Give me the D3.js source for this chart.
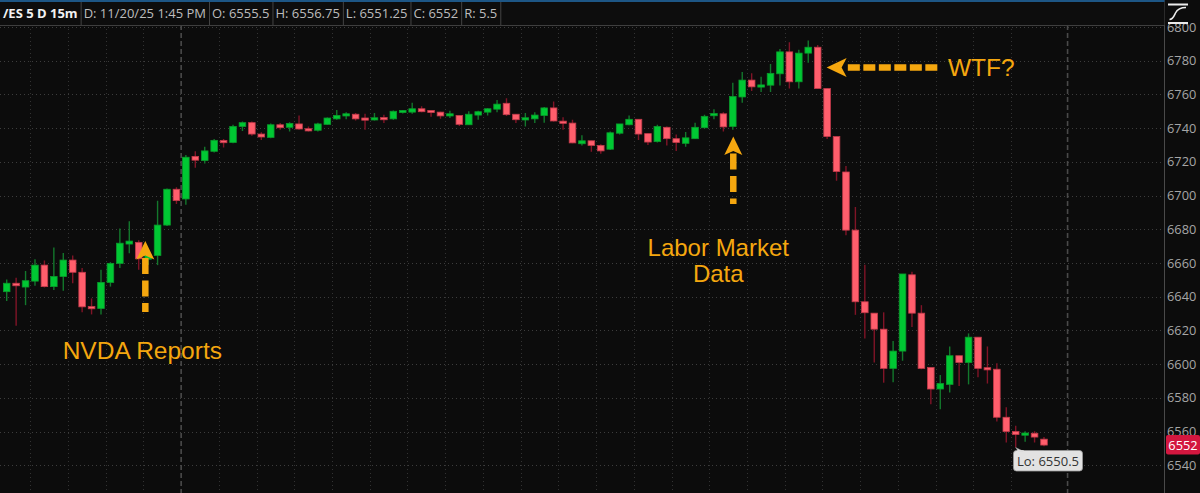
<!DOCTYPE html>
<html><head><meta charset="utf-8">
<script src="https://cdn.jsdelivr.net/npm/d3@7"></script>
<style>html,body{margin:0;padding:0;background:#0c0c0c;overflow:hidden}</style>
</head><body><svg id="c" width="1200" height="493"></svg>
<script>
// ---- data (15m bars, /ES) ----
const opens  = [6643,6648,6645.75,6649.25,6658.75,6646,6652,6661.75,6654.5,6634,6633,6648.5,6659.75,6671.25,6672.25,6662.25,6664.5,6682.5,6703.75,6698,
6723.25,6720.75,6726.25,6732.25,6731.5,6741,6743.25,6736.5,6734.5,6742,6740.5,6742.5,6739.5,6738.75,6742.25,6745.5,6747.5,6748.25,6745.75,6745,
6746,6745.5,6749.5,6749.5,6751.5,6750.25,6749.5,6747.5,6747.5,6742,6747.75,6749.5,6751.25,6754.75,6748.25,6745,6745.5,6747.5,6752,6744,
6743,6730.75,6732.5,6729.75,6727.5,6737,6742,6745.25,6736.75,6732,6740.5,6733.75,6731,6733.75,6740.25,6747.5,6748.5,6741,6758.5,6768.5,
6764.5,6765.5,6772.25,6785.25,6767.5,6784.5,6788,6763.5,6735,6714,6679.5,6637,6630.25,6620.75,6597.5,6607.75,6653,6630.25,6598,6585.25,
6588,6605,6601,6616,6597.75,6597,6568.5,6560,6558,6559,6555.5];
const highs  = [6650.25,6651.25,6655.25,6662.25,6661.5,6669.25,6666,6664.5,6657,6639,6656,6660.5,6680.5,6684.75,6673.5,6666,6697,6704.25,6705,6724,
6726.25,6729,6733.5,6733.5,6742,6744,6744,6737.5,6742.75,6743,6743.5,6747.5,6741,6743.25,6746.25,6750.75,6749.5,6749,6748.5,6749,
6748,6750.5,6750.75,6755,6753,6750.25,6749.75,6750.25,6747.5,6750,6750.25,6751.75,6756.75,6757.75,6748.25,6749,6749.5,6752.5,6755.75,6746.5,
6745,6735.75,6732.5,6730.5,6738,6742.5,6747.5,6745.25,6736.75,6742,6741,6736.25,6737.75,6743.25,6748,6751.25,6749.5,6767,6773.25,6772.5,
6770.5,6778,6787,6791,6786.5,6792,6789.25,6763.5,6735.25,6717.5,6693.25,6659,6630.25,6630.75,6613.75,6653.5,6654.75,6635,6598,6593.5,
6610.5,6605,6618.25,6616,6610.5,6600.5,6574.5,6563.5,6560.25,6560.25,6556.75];
const lows   = [6637.5,6622.75,6635,6646.5,6645.5,6644,6643.5,6648,6630.75,6629.5,6629.5,6646,6657,6665.75,6656,6658.75,6658.75,6682,6695,6694.5,
6716.5,6719,6725.5,6728.5,6731,6738.25,6735.5,6733,6734,6739,6738,6739,6738,6738,6742,6745,6745.25,6744.5,6739,6744.5,
6743,6745,6748.75,6748.5,6749.5,6746.75,6745.5,6746,6741.25,6742,6745,6747.5,6749.5,6747.25,6743,6741,6743,6743.25,6744,6739,
6731,6729.75,6726,6724.75,6727,6736.25,6741.75,6733,6730,6731.5,6729.75,6726.5,6729,6733.5,6740,6745.25,6738,6739,6755,6762,
6761.5,6761.5,6765.25,6763.5,6763.5,6778.75,6763.5,6733.5,6708.75,6676.5,6629.25,6615.25,6601,6589,6589.25,6602,6622,6597,6576.25,6573.25,
6583.25,6587,6588,6592.25,6588.5,6566,6553.5,6550.5,6554,6553.5,6551.25];
const closes = [6648,6646.5,6649.5,6658.75,6646,6652,6661.75,6654.5,6634,6633,6648.5,6659.75,6671.75,6673,6662.5,6664.75,6682.5,6703.75,6697,6722.75,
6721,6726.5,6732.75,6731.75,6741,6743.25,6736.5,6734.75,6742,6740.25,6742.75,6739.5,6738.5,6742.5,6746,6747.5,6748.25,6745.5,6745,6746,
6745.25,6750,6750.25,6751.5,6749.75,6749.5,6747.25,6748.25,6742.25,6748.25,6749.75,6751.5,6754.25,6748,6745,6746,6747.75,6752,6744.25,6743,
6731.25,6732.5,6729.75,6726.5,6737.25,6742.5,6745.25,6736.5,6731.75,6741,6733.75,6731.5,6734.25,6740.5,6747,6748.5,6740.75,6758.75,6768.5,6764.5,
6765.5,6772.5,6785.25,6767.5,6784.5,6788,6763.5,6735,6714.25,6679.5,6637,6630.5,6620.75,6597.5,6607.75,6653.5,6630.25,6597.5,6585.25,6588.5,
6605,6601,6616,6597.5,6596.75,6568.5,6560,6558.25,6559,6556.75,6552];
const priceTicks = [6540,6560,6580,6600,6620,6640,6660,6680,6700,6720,6740,6760,6780,6800];
const sessionBreaks = [18.5, 112.5];           // dashed session separators (bar index)
const hourGrid = [2.5,6.5,10.5,14.5,22.5,26.5,30.5,34.5,38.5,42.5,46.5,50.5,54.5,58.5,62.5,66.5,70.5,74.5,78.5,82.5,86.5,90.5,94.5,98.5,102.5,106.5];
const headerCells = ["/ES 5 D 15m","D: 11/20/25 1:45 PM","O: 6555.5","H: 6556.75","L: 6551.25","C: 6552","R: 5.5"];
const lastPrice = 6552;
const lowBar = 107, lowValue = 6550.5, lowText = "Lo: 6550.5";
const notes = [
  {text:["NVDA Reports"], bar:14.7, tip:6673, tail:6631, dir:"up"},
  {text:["Labor Market","Data"], bar:77.05, tip:6735, tail:6695, dir:"up"},
  {text:["WTF?"], bar:87.0, price:6776, tailBar:98.9, dir:"left"}
];

// ---- layout ----
const W=1200,H=493, plotR=1164.5;
const svg=d3.select("#c");
const x=d3.scaleLinear().domain([0,110]).range([6.7,6.7+9.43*110]);
const y=d3.scaleLinear().domain([6540,6800]).range([465.3,27]);
const bg="#0c0c0c", orange="#f5a70f";
svg.append("rect").attr("width",W).attr("height",H).attr("fill",bg);

const plot=svg.append("g");
svg.append("defs").append("clipPath").attr("id","pc").append("rect").attr("x",0).attr("y",25).attr("width",plotR).attr("height",H-25);
plot.attr("clip-path","url(#pc)");

// grid
plot.selectAll(".hg").data(priceTicks).join("line")
  .attr("x1",0).attr("x2",plotR).attr("y1",d=>Math.round(y(d))+0.5).attr("y2",d=>Math.round(y(d))+0.5)
  .attr("stroke","#3d3d3d").attr("stroke-width",1).attr("stroke-dasharray","1,3");
plot.selectAll(".vg").data(hourGrid).join("line")
  .attr("x1",d=>Math.round(x(d))+0.5).attr("x2",d=>Math.round(x(d))+0.5).attr("y1",25).attr("y2",H)
  .attr("stroke","#333").attr("stroke-width",1).attr("stroke-dasharray","1,3");
plot.selectAll(".sb").data(sessionBreaks).join("line")
  .attr("x1",d=>x(d)).attr("x2",d=>x(d)).attr("y1",25).attr("y2",H)
  .attr("stroke","#4a4a4a").attr("stroke-width",1.6).attr("stroke-dasharray","5,3");

// candles
const bars=d3.range(opens.length).map(i=>({i,o:opens[i],h:highs[i],l:lows[i],c:closes[i]}));
const up=d=>d.c>=d.o;
const bw=6.6;
const cg=plot.append("g");
cg.selectAll(".wk").data(bars).join("line")
  .attr("x1",d=>x(d.i)).attr("x2",d=>x(d.i)).attr("y1",d=>y(d.h)).attr("y2",d=>y(d.l))
  .attr("stroke",d=>up(d)?"#13782c":"#801427").attr("stroke-width",1.4);
cg.selectAll(".bd").data(bars).join("rect")
  .attr("x",d=>x(d.i)-bw/2).attr("width",bw)
  .attr("y",d=>{const t=y(Math.max(d.o,d.c)), b=y(Math.min(d.o,d.c)); return (b-t)<2.2?(t+b)/2-1.1:t;})
  .attr("height",d=>Math.max(2.2,Math.abs(y(d.o)-y(d.c))))
  .attr("fill",d=>up(d)?"#00c833":"#ff5e6c")
  .attr("stroke",d=>up(d)?"#0a9a2c":"#c23a4a").attr("stroke-width",0.8);

// annotations
const ag=svg.append("g");
function upArrow(cx,tipY,tailY){
  ag.append("path").attr("d",`M${cx},${tipY} L${cx+9},${tipY+18.5} L${cx},${tipY+14.5} L${cx-9},${tipY+18.5} Z`).attr("fill",orange);
  ag.append("line").attr("x1",cx).attr("x2",cx).attr("y1",tipY+17).attr("y2",tailY)
    .attr("stroke",orange).attr("stroke-width",6.5).attr("stroke-dasharray","16,6.5");
}
function leftArrow(tipX,cy,tailX){
  ag.append("path").attr("d",`M${tipX},${cy} L${tipX+20},${cy-9.5} L${tipX+15},${cy} L${tipX+20},${cy+9.5} Z`).attr("fill",orange);
  ag.append("line").attr("x1",tailX).attr("x2",tipX+19).attr("y1",cy).attr("y2",cy)
    .attr("stroke",orange).attr("stroke-width",6.5).attr("stroke-dasharray","12,3.5");
}
const fontA="'Liberation Sans', Arial, sans-serif";
// NVDA
{const n=notes[0]; const cx=x(n.bar); upArrow(cx,y(n.tip),y(n.tail));
 ag.append("text").attr("x",cx-3).attr("y",359).attr("text-anchor","middle").attr("font-family",fontA).attr("font-size",24.5).attr("fill",orange).text(n.text[0]);}
// Labor
{const n=notes[1]; const cx=x(n.bar); upArrow(cx,y(n.tip),y(n.tail));
 n.text.forEach((t,k)=>ag.append("text").attr("x",cx-15).attr("y",256+k*26).attr("text-anchor","middle").attr("font-family",fontA).attr("font-size",24).attr("fill",orange).text(t));}
// WTF
{const n=notes[2]; const cy=y(n.price); leftArrow(x(n.bar)-0.5,cy,x(n.tailBar)-2);
 ag.append("text").attr("x",948).attr("y",cy+9).attr("font-family",fontA).attr("font-size",24.5).attr("fill",orange).text(n.text[0]);}

// low label
{const px=x(lowBar), py=y(lowValue);
 const g=svg.append("g");
 g.append("rect").attr("x",1013.5).attr("y",450.5).attr("width",69).attr("height",20.5).attr("rx",3).attr("fill","#e2e2e2").attr("stroke","#9a9a9a").attr("stroke-width",0.8);
 g.append("path").attr("d",`M${px},${py} L${px+2.5},${451} L${px+7},${451} Z`).attr("fill","#e2e2e2").attr("stroke","#9a9a9a").attr("stroke-width",0.6);
 g.append("rect").attr("x",px+1.5).attr("y",450.2).attr("width",6.5).attr("height",1.6).attr("fill","#e2e2e2");
 g.append("text").attr("x",1048).attr("y",465.5).attr("text-anchor","middle").attr("font-family","'Open Sans',sans-serif").attr("font-size",13).attr("fill","#333").text(lowText);}

// right axis
svg.append("line").attr("x1",plotR).attr("x2",plotR).attr("y1",0).attr("y2",H).attr("stroke","#4a4a4a");
svg.append("g").selectAll("text").data(priceTicks.filter(d=>Math.abs(y(d)-y(lastPrice))>12)).join("text")
  .attr("x",1167).attr("y",d=>y(d)+4.5).attr("font-family","'Open Sans',sans-serif").attr("font-size",12.8).attr("fill","#a6a6a6").text(d=>d);
// tick label partly hidden under the last-price box (as in the original)
{const hidden=priceTicks.filter(d=>Math.abs(y(d)-y(lastPrice))<=12);
 svg.append("defs").append("clipPath").attr("id","hc").append("rect").attr("x",1165).attr("y",0).attr("width",35).attr("height",y(lastPrice)-10);
 svg.append("g").attr("clip-path","url(#hc)").selectAll("text").data(hidden).join("text")
  .attr("x",1167).attr("y",d=>y(d)+4.5).attr("font-family","'Open Sans',sans-serif").attr("font-size",12.8).attr("fill","#a6a6a6").text(d=>d);}
svg.append("rect").attr("x",1166).attr("y",y(lastPrice)-10).attr("width",34).attr("height",19.5).attr("rx",2).attr("fill","#d3173f");
svg.append("text").attr("x",1183).attr("y",y(lastPrice)+4.5).attr("text-anchor","middle").attr("font-family","'Open Sans',sans-serif").attr("font-size",12.8).attr("fill","#fff").text(lastPrice);

// header
svg.append("rect").attr("x",0).attr("y",0).attr("width",plotR).attr("height",25).attr("fill","#0d0d0d");
svg.append("rect").attr("x",0).attr("y",0).attr("width",plotR).attr("height",2).attr("fill","#1d5685");
svg.append("line").attr("x1",0).attr("x2",plotR).attr("y1",25.5).attr("y2",25.5).attr("stroke","#3f3f3f");
let hx=0;
headerCells.forEach((t,k)=>{
  const tx=svg.append("text").attr("x",hx+3).attr("y",18).attr("font-family","'Open Sans',sans-serif")
    .attr("font-size",13).attr("font-weight",k===0?700:400).attr("fill",k===0?"#f2f2f2":"#bdbdbd").text(t);
  const w=tx.node().getComputedTextLength();
  hx=hx+w+6;
  svg.append("line").attr("x1",hx+0.5).attr("x2",hx+0.5).attr("y1",2).attr("y2",25).attr("stroke","#444");
});
// top-right icon
const ic=svg.append("g").attr("stroke","#ececec").attr("fill","none");
ic.append("line").attr("x1",1168).attr("x2",1188).attr("y1",4.5).attr("y2",4.5).attr("stroke-width",2);
ic.append("line").attr("x1",1168).attr("x2",1188).attr("y1",23).attr("y2",23).attr("stroke-width",2);
ic.append("path").attr("d","M1169.5,19.5 C1173,19.5 1174,16 1175.5,13 C1177.5,9 1181,7.5 1186,7.5").attr("stroke-width",1.6);
</script></body></html>
